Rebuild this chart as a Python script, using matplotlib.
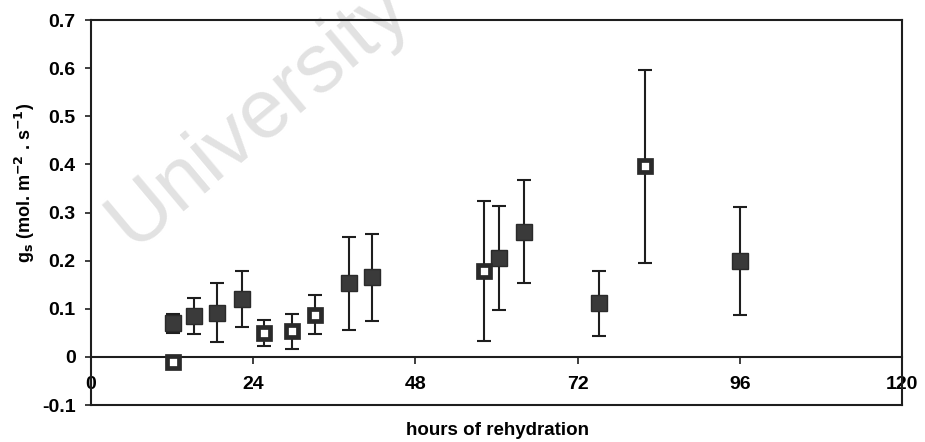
import numpy as np
import matplotlib.pyplot as plt

# stomatal conductance during rehydration
hours_filled = [12.1, 15.3, 18.7, 22.4, 38.2, 41.6, 60.4, 64.0, 75.2, 96.0]
gs_filled = [0.070, 0.085, 0.092, 0.120, 0.153, 0.165, 0.206, 0.260, 0.111, 0.200]
err_filled = [0.020, 0.037, 0.062, 0.058, 0.097, 0.090, 0.108, 0.107, 0.068, 0.112]

hours_open = [12.1, 25.6, 29.7, 33.1, 58.2, 82.0]
gs_open = [-0.010, 0.050, 0.053, 0.088, 0.178, 0.396]
err_open = [0.0, 0.027, 0.036, 0.041, 0.146, 0.200]

xticks = [0, 24, 48, 72, 96, 120]
yticks = [-0.1, 0, 0.1, 0.2, 0.3, 0.4, 0.5, 0.6, 0.7]

plt.rcParams['font.family'] = ['Liberation Sans', 'DejaVu Sans']
plt.rcParams['font.weight'] = 'bold'

ink = '#1e1e1e'
fig = plt.figure(figsize=(9.25, 4.42), dpi=100)
ax = fig.add_axes([0.0984, 0.0837, 0.8768, 0.871])
ax.set_xlim(0, 120)
ax.set_ylim(-0.1, 0.7)

# watermark behind the data
ax.text(0.280, 0.742, 'University', transform=fig.transFigure, rotation=40,
        rotation_mode='anchor', fontsize=60, color='#e2e2e2', ha='center',
        va='center', family='Liberation Sans', weight='normal', zorder=0,
        clip_on=False)

# error bars first, markers on top
for h, g, e in [(hours_filled, gs_filled, err_filled), (hours_open, gs_open, err_open)]:
    ax.errorbar(h, g, yerr=e, fmt='none', ecolor=ink, elinewidth=1.5,
                capsize=5, capthick=1.5, zorder=2)
ax.plot(hours_filled, gs_filled, 's', ms=12, mfc='#3a3a3a', mec='#2a2a2a',
        mew=1.0, zorder=3)
ax.plot(hours_open, gs_open, 's', ms=8.3, mfc='white', mec='#2a2a2a',
        mew=3.4, zorder=3)

# x axis drawn through zero, frame closed at the bottom of the range
ax.spines['bottom'].set_position(('data', 0))
ax.plot([0, 120], [-0.1, -0.1], color=ink, lw=1.5, clip_on=False, zorder=4)
for s in ax.spines.values():
    s.set_color(ink)
    s.set_linewidth(1.5)

ax.set_xticks(xticks)
ax.set_yticks(yticks)
ax.set_yticklabels(['-0.1', '0', '0.1', '0.2', '0.3', '0.4', '0.5', '0.6', '0.7'])
ax.tick_params(axis='x', direction='out', length=5, width=1.2, color=ink,
               pad=9, labelsize=14)
ax.tick_params(axis='y', direction='out', length=4, width=1.2, color=ink,
               pad=7, labelsize=14)

fig.text(0.538, 0.025, 'hours of rehydration', ha='center', va='center',
         fontsize=13.5, weight='bold')
fig.text(0.027, 0.586, r'g$_\mathbf{s}$ (mol. m$^\mathbf{-2}$ . s$^\mathbf{-1}$)',
         rotation=90, ha='center', va='center', fontsize=13, weight='bold')

fig.savefig('out.png', dpi=100)
